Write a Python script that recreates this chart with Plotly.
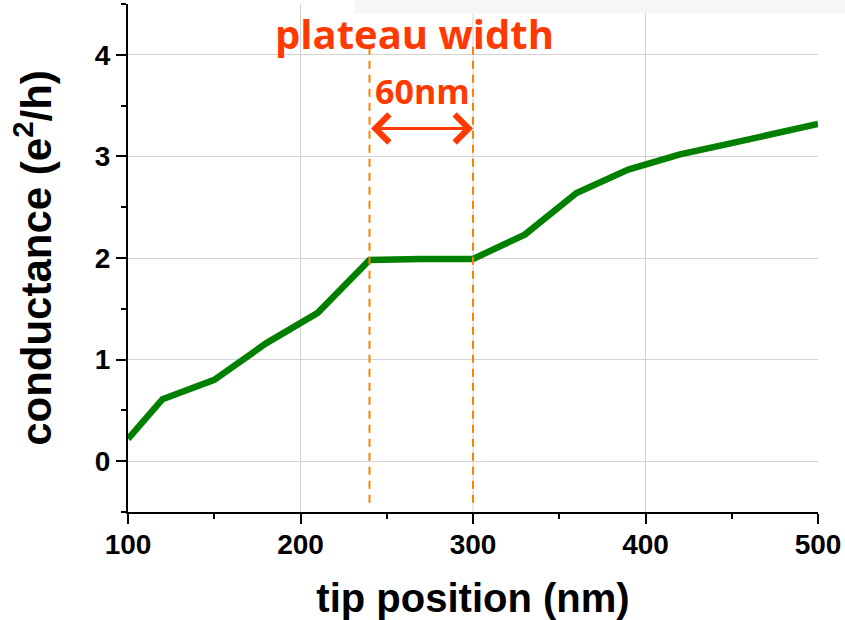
import plotly.graph_objects as go

tip_nm = [100, 120, 150, 180, 210, 240, 270, 300, 330, 360, 390, 420, 450, 480, 500]
conductance = [0.22, 0.61, 0.80, 1.16, 1.46, 1.98, 1.99, 1.99, 2.23, 2.64, 2.87, 3.02, 3.13, 3.24, 3.32]

plateau_start = 240
plateau_end = 300
plateau_label = "60nm"
title_label = "plateau width"
x_ticks = [100, 200, 300, 400, 500]
y_ticks = [0, 1, 2, 3, 4]

RED = "#FF3A00"
ORANGE = "#FF8000"
GRID = "#d3d3d3"
AX = "Liberation Sans, Arial, sans-serif"
ANN = "Open Sans, sans-serif"

fig = go.Figure()
fig.add_trace(go.Scatter(x=tip_nm, y=conductance, mode="lines",
                         line=dict(color="#008000", width=6.5), hoverinfo="skip",
                         showlegend=False))

# vertical grid lines (interior ticks only)
for xv in x_ticks[1:-1]:
    fig.add_shape(type="line", x0=xv, x1=xv, y0=0, y1=1, xref="x", yref="paper",
                  line=dict(color=GRID, width=1), layer="below")

for xv in (plateau_start, plateau_end):
    fig.add_shape(type="line", x0=xv, x1=xv, y0=-0.41, y1=4.08, xref="x", yref="y",
                  line=dict(color=ORANGE, width=2, dash="8px,6px"), layer="above")

# faint band at top
fig.add_shape(type="rect", xref="paper", yref="paper", x0=0.3287, x1=1.04,
              y0=0.982, y1=1.01, fillcolor="#f6f6f6", line=dict(width=0), layer="below")

fig.add_annotation(x=plateau_end, y=3.275, ax=plateau_start, ay=3.275, xref="x", yref="y",
                   axref="x", ayref="y", text="", showarrow=True, arrowhead=4,
                   arrowside="end+start", arrowsize=1.8, arrowwidth=3, arrowcolor=RED,
                   standoff=0, startstandoff=0)
fig.add_annotation(x=270.5, y=3.64, xref="x", yref="y", text=plateau_label, showarrow=False,
                   font=dict(family=ANN, size=34, color=RED, weight="bold"))
fig.add_annotation(x=266, y=4.21, xref="x", yref="y", text=title_label, showarrow=False,
                   font=dict(family=ANN, size=40, color=RED, weight="bold"))

axis_common = dict(showline=True, linecolor="black", linewidth=2, ticks="outside",
                   ticklen=10, tickwidth=2, tickcolor="black", gridcolor=GRID,
                   gridwidth=1, zeroline=False, mirror=False, automargin=False,
                   tickfont=dict(family=AX, size=28, color="black", weight="bold"))

fig.update_xaxes(range=[100, 500], tickvals=x_ticks, showgrid=False, ticklabelstandoff=-4,
                 title=dict(text="tip position (nm)", standoff=26,
                            font=dict(family=AX, size=40, color="black", weight="bold")),
                 minor=dict(ticks="outside", ticklen=5, tickwidth=2, tickcolor="black",
                            dtick=50, showgrid=False),
                 **axis_common)
fig.update_yaxes(range=[-0.5, 4.5], tickvals=y_ticks, ticklabelstandoff=0,
                 title=dict(text="conductance (e<sup>2</sup>/h)", standoff=30,
                            font=dict(family=AX, size=42, color="black", weight="bold")),
                 minor=dict(ticks="outside", ticklen=5, tickwidth=2, tickcolor="black",
                            dtick=0.5, showgrid=False),
                 **axis_common)

fig.update_layout(width=845, height=620, margin=dict(l=128, r=27, t=4, b=108),
                  plot_bgcolor="white", paper_bgcolor="white")

fig.write_html("out.html", config={"displayModeBar": False},
               post_script="document.body.style.margin='0';document.body.style.overflow='hidden';")
